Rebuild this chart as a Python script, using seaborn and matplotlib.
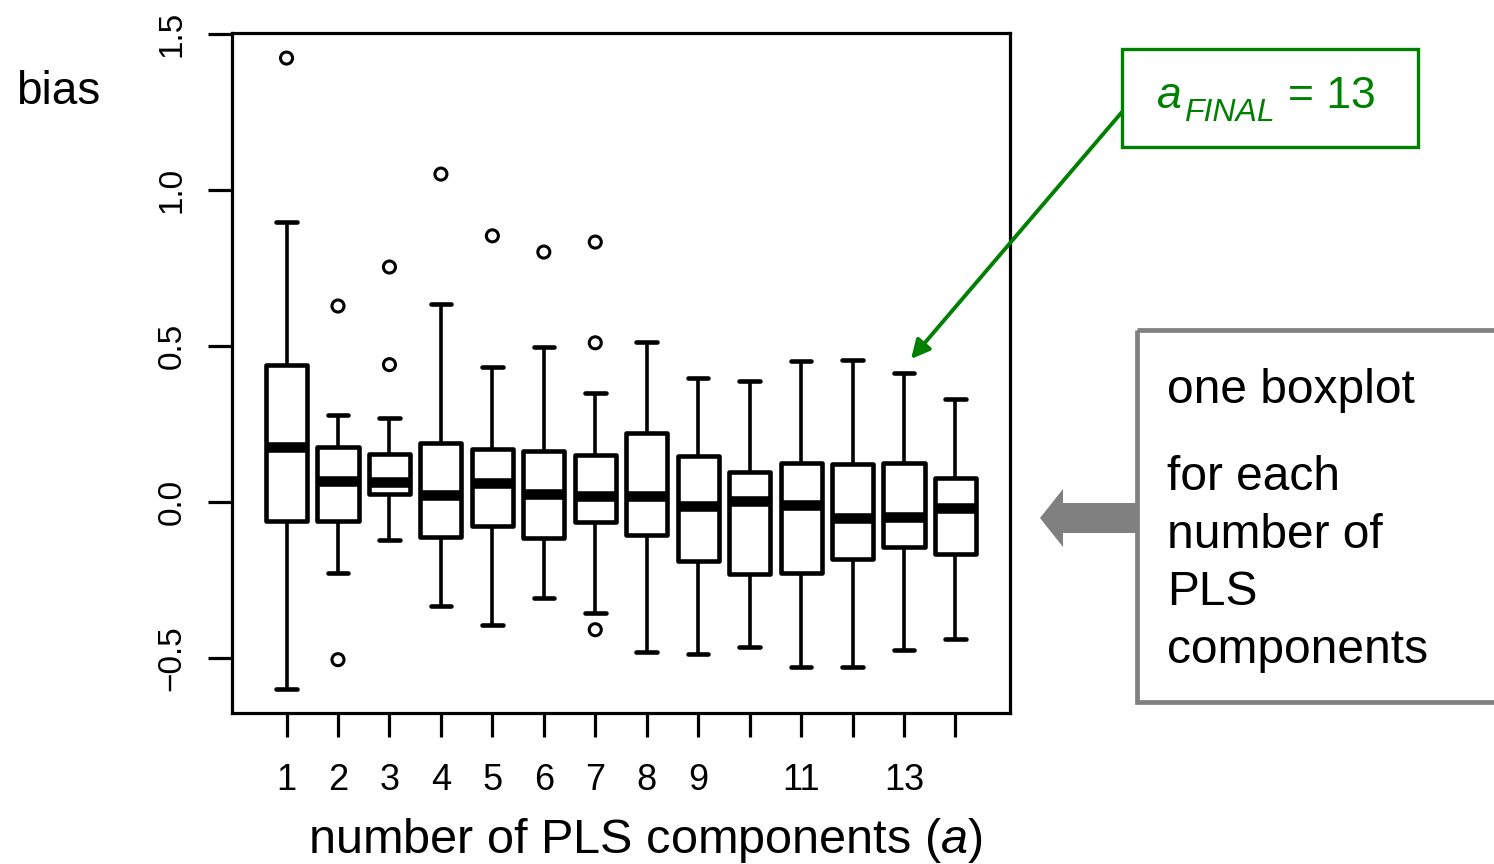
import numpy as np
import pandas as pd
import matplotlib
matplotlib.use("Agg")
import matplotlib.pyplot as plt
import matplotlib.patches as mpatches
from matplotlib.transforms import Affine2D
import seaborn as sns

# ---------------- data ----------------
components = list(range(1, 15))
whisker_low = [-0.599, -0.228, -0.122, -0.333, -0.394, -0.308, -0.356,
               -0.481, -0.487, -0.465, -0.529, -0.529, -0.474, -0.439]
q1 = [-0.062, -0.061, 0.026, -0.112, -0.077, -0.115, -0.063,
      -0.107, -0.189, -0.231, -0.228, -0.183, -0.144, -0.167]
median = [0.176, 0.068, 0.063, 0.023, 0.062, 0.026, 0.019,
          0.019, -0.013, 0.004, -0.009, -0.051, -0.047, -0.020]
q3 = [0.440, 0.176, 0.154, 0.190, 0.171, 0.162, 0.150,
      0.221, 0.147, 0.096, 0.124, 0.121, 0.124, 0.077]
whisker_high = [0.897, 0.280, 0.269, 0.635, 0.433, 0.497, 0.348,
                0.513, 0.396, 0.388, 0.452, 0.455, 0.412, 0.330]
outlier_component = [1, 2, 2, 3, 3, 4, 5, 6, 7, 7, 7]
outlier_value = [1.423, 0.628, -0.506, 0.753, 0.440, 1.051, 0.853,
                 0.801, 0.833, 0.510, -0.410]
x_tick_labels = ['1', '2', '3', '4', '5', '6', '7', '8', '9', '', '11', '', '13', '']
y_ticks = [-0.5, 0.0, 0.5, 1.0, 1.5]
y_tick_labels = ['\u22120.5', '0.0', '0.5', '1.0', '1.5']

# ---------------- style ----------------
sns.set_theme(style='white')
plt.rcParams['font.family'] = ['Liberation Sans', 'DejaVu Sans']
plt.rcParams['mathtext.fontset'] = 'custom'
plt.rcParams['mathtext.it'] = 'Liberation Sans:italic'
plt.rcParams['mathtext.rm'] = 'Liberation Sans'
plt.rcParams['text.color'] = 'black'
plt.rcParams['xtick.color'] = 'black'
plt.rcParams['ytick.color'] = 'black'
plt.rcParams['xtick.labelcolor'] = 'black'
plt.rcParams['ytick.labelcolor'] = 'black'

# five-number summaries as a long table
rows = []
for c, lo, a, m, b, hi in zip(components, whisker_low, q1, median, q3, whisker_high):
    for v in (lo, a, m, b, hi):
        rows.append({'component': c, 'bias': v})
df = pd.DataFrame(rows)

W, H = 1494, 864
fig = plt.figure(figsize=(W / 100, H / 100), dpi=100)
px = Affine2D().scale(1, -1).translate(0, H).scale(1 / W, 1 / H) + fig.transFigure

ax = fig.add_axes([232 / W, 1 - 713 / H, (1010 - 232) / W, (713 - 32.5) / H])

sns.boxplot(data=df, x='component', y='bias', order=components,
            whis=(0, 100), showfliers=False, width=0.8,
            color='white', saturation=1, linecolor='black', linewidth=3.3,
            medianprops=dict(linewidth=7.6, solid_capstyle='butt'),
            whiskerprops=dict(linewidth=2.6),
            capprops=dict(linewidth=3.3, solid_capstyle='round'),
            boxprops=dict(joinstyle='round'),
            ax=ax)

pos = [components.index(c) for c in outlier_component]
sns.scatterplot(x=pos, y=outlier_value, marker='o', s=75, ax=ax,
                linewidth=2.2, legend=False)
coll = ax.collections[-1]
coll.set_facecolor('none')
coll.set_edgecolor('black')

ax.set_xlim(-1.06, 14.06)
ax.set_ylim(-0.677, 1.505)
ax.set_xticks(range(len(components)))
ax.set_xticklabels(x_tick_labels)
ax.set_yticks(y_ticks)
ax.set_yticklabels(y_tick_labels)
ax.set_xlabel('')
ax.set_ylabel('')
for sp in ax.spines.values():
    sp.set_visible(True)
    sp.set_color('black')
    sp.set_linewidth(2.3)
ax.tick_params(axis='both', direction='out', length=17, width=2.3, color='black',
               labelcolor='black', bottom=True, left=True)
ax.tick_params(axis='x', labelsize=26, pad=19)
ax.tick_params(axis='y', labelsize=24, pad=15, labelrotation=90)
for lbl in ax.get_yticklabels():
    lbl.set_va('center')

# ---------------- annotations ----------------
fig.text(16, 104, 'bias', transform=px, fontsize=33, ha='left', va='baseline')
fig.text(645, 853, r'number of PLS components ($\mathit{a}$)', transform=px,
         fontsize=35, ha='center', va='baseline')

green = '#008000'
fig.add_artist(mpatches.Rectangle((1122, 49), 296, 98, transform=px, fill=False,
                                  edgecolor=green, linewidth=2.4))
fig.text(1157, 108, 'a', transform=px, fontsize=32, style='italic', color=green,
         ha='left', va='baseline')
fig.text(1184, 121, 'FINAL', transform=px, fontsize=23, style='italic', color=green,
         ha='left', va='baseline')
fig.text(1288, 108, '= 13', transform=px, fontsize=32, color=green,
         ha='left', va='baseline')
fig.add_artist(mpatches.FancyArrowPatch((1122, 112), (911, 359), transform=px,
                                        arrowstyle='-|>', mutation_scale=28,
                                        color=green, linewidth=2.8,
                                        shrinkA=0, shrinkB=0))

gray = '#808080'
fig.add_artist(mpatches.Rectangle((1137, 330), 420, 372, transform=px, fill=False,
                                  edgecolor=gray, linewidth=3.4))
fig.add_artist(mpatches.Polygon([(1040, 518), (1063, 489), (1063, 503), (1137, 503),
                                 (1137, 533), (1063, 533), (1063, 547)],
                                closed=True, transform=px, facecolor=gray,
                                edgecolor='none'))
for txt, base in [('one boxplot', 403), ('for each', 490), ('number of', 548),
                  ('PLS', 605), ('components', 663)]:
    fig.text(1167, base, txt, transform=px, fontsize=34.5, ha='left', va='baseline')

fig.savefig('out.png', dpi=100, facecolor='white')
